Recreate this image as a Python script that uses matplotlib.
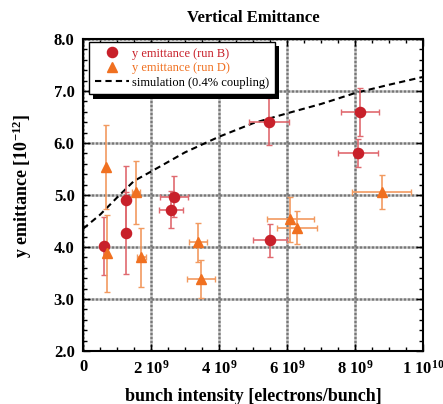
import matplotlib
matplotlib.use("Agg")
import matplotlib.pyplot as plt
import matplotlib.patheffects as pe
from matplotlib.lines import Line2D
from matplotlib.ticker import MultipleLocator, FixedLocator, FixedFormatter, FormatStrFormatter

# Run B data
b_x = [0.63e9, 1.26e9, 1.27e9, 2.67e9, 2.59e9, 5.47e9, 5.50e9, 8.15e9, 8.09e9]
b_y = [4.02, 4.90, 4.27, 4.97, 4.72, 6.41, 4.13, 6.60, 5.81]
b_xerr = [0.0, 0.05e9, 0.12e9, 0.41e9, 0.35e9, 0.58e9, 0.50e9, 0.55e9, 0.59e9]
b_yerr = [0.55, 0.65, 0.78, 0.40, 0.36, 0.45, 0.32, 0.46, 0.27]

# Run D data
d_x = [0.67e9, 0.71e9, 1.55e9, 1.72e9, 3.38e9, 3.46e9, 6.09e9, 6.30e9, 8.78e9]
d_y = [5.54, 3.88, 5.05, 3.80, 4.09, 3.38, 4.53, 4.37, 5.06]
d_xerr = [0.0, 0.0, 0.12e9, 0.13e9, 0.26e9, 0.41e9, 0.69e9, 0.58e9, 0.86e9]
d_yerr = [0.80, 0.74, 0.60, 0.57, 0.38, 0.37, 0.43, 0.32, 0.32]

# Simulation curve
sim_x = [0, 0.5e9, 1e9, 1.5e9, 2e9, 3e9, 4e9, 5e9, 6e9, 7e9, 8e9, 9e9, 10e9]
sim_y = [4.35, 4.62, 4.95, 5.27, 5.45, 5.82, 6.12, 6.38, 6.57, 6.75, 6.96, 7.12, 7.27]

xtick_vals = [0, 2e9, 4e9, 6e9, 8e9, 1e10]
xtick_labels = ["0", r"2 10$^{9}$", r"4 10$^{9}$", r"6 10$^{9}$", r"8 10$^{9}$", r"1 10$^{10}$"]

plt.rcParams['font.family'] = ['Liberation Serif', 'DejaVu Serif']
plt.rcParams['mathtext.fontset'] = 'custom'
plt.rcParams['mathtext.rm'] = 'Liberation Serif:bold'
plt.rcParams['mathtext.it'] = 'Liberation Serif:bold'
plt.rcParams['mathtext.bf'] = 'Liberation Serif:bold'

fig = plt.figure(figsize=(4.43, 4.04), dpi=100)
ax = fig.add_axes([0.1874, 0.1312, 0.7675, 0.7723])

red = '#c8202a'
red_err = '#e06a70'
orange = '#f07020'
orange_err = '#f29a60'

ax.plot(sim_x, sim_y, color='black', linestyle=(0, (3, 2)), lw=1.5, zorder=3)

ax.errorbar(b_x, b_y, xerr=b_xerr, yerr=b_yerr, fmt='o', color=red, ecolor=red_err,
            elinewidth=1.2, capsize=2.5, capthick=1.0, markersize=7.3, zorder=4)
ax.errorbar(d_x, d_y, xerr=d_xerr, yerr=d_yerr, fmt='^', color=orange, ecolor=orange_err,
            elinewidth=1.2, capsize=2.5, capthick=1.0, markersize=7.5, zorder=4)

ax.set_xlim(0, 1e10)
ax.set_ylim(2.0, 8.0)

ax.xaxis.set_major_locator(FixedLocator(xtick_vals))
ax.xaxis.set_major_formatter(FixedFormatter(xtick_labels))
ax.xaxis.set_minor_locator(MultipleLocator(0.5e9))
ax.yaxis.set_major_locator(MultipleLocator(1.0))
ax.yaxis.set_minor_locator(MultipleLocator(0.2))
ax.yaxis.set_major_formatter(FormatStrFormatter('%.1f'))

ax.tick_params(which='both', direction='in', top=True, right=True, width=1.0)
ax.tick_params(which='major', length=5, labelsize=12, pad=6)
ax.tick_params(which='minor', length=3)
for lbl in ax.get_xticklabels() + ax.get_yticklabels():
    lbl.set_fontweight('bold')

for s in ax.spines.values():
    s.set_linewidth(1.5)

ax.grid(True, which='major', color='#777777', linestyle=(0, (1.2, 0.4)), linewidth=1.8, zorder=0)
ax.set_axisbelow(True)

ax.set_title('Vertical Emittance', fontsize=12, fontweight='bold', pad=12)
ax.set_xlabel('bunch intensity [electrons/bunch]', fontsize=13, fontweight='bold', labelpad=8)
ax.set_ylabel(r'y emittance [10$^{-12}$]', fontsize=13, fontweight='bold')
ax.yaxis.set_label_coords(-0.145, 0.53)

handles = [
    Line2D([], [], marker='o', linestyle='none', color=red, markersize=7.3),
    Line2D([], [], marker='^', linestyle='none', color=orange, markersize=7.5),
    Line2D([], [], color='black', linestyle=(0, (3, 2)), lw=1.5),
]
labels = ['y emittance (run B)', 'y emittance (run D)', 'simulation (0.4% coupling)']
leg = ax.legend(handles, labels, loc='upper left', bbox_to_anchor=(0.018, 0.99),
                borderaxespad=0, fontsize=9, frameon=True, fancybox=False,
                edgecolor='black', framealpha=1, borderpad=0.45, labelspacing=0.2,
                handlelength=2.7, handletextpad=0.3)
leg.get_frame().set_linewidth(1.0)
leg.get_frame().set_path_effects([pe.SimplePatchShadow(offset=(3, -3), shadow_rgbFace='black', alpha=1.0), pe.Normal()])
leg.set_zorder(6)
text_colors = [red, orange, 'black']
for t, c in zip(leg.get_texts(), text_colors):
    t.set_color(c)

fig.savefig('out.png', dpi=100)
